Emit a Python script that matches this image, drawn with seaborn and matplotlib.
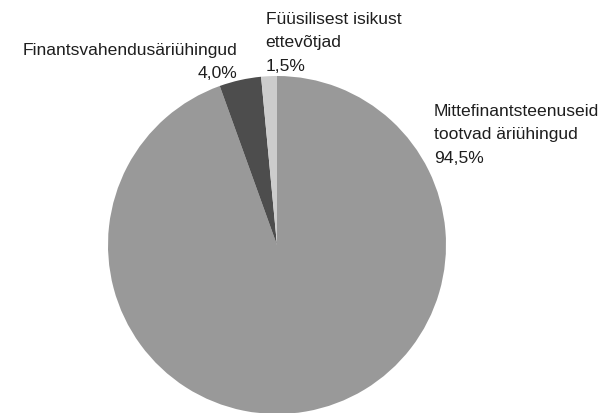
import matplotlib
matplotlib.use("Agg")
import matplotlib.pyplot as plt
import seaborn as sns

sns.set_style("white")
plt.rcParams["font.family"] = ["Liberation Sans", "DejaVu Sans"]

categories = [["Mittefinantsteenuseid", "tootvad äriühingud"],
              ["Finantsvahendusäriühingud"],
              ["Füüsilisest isikust", "ettevõtjad"]]
shares = [94.5, 4.0, 1.5]
colors = ["#999999", "#4d4d4d", "#cccccc"]

fig = plt.figure(figsize=(6.05, 4.14), dpi=100)
W, H = 605, 414
cx, cy, r = 277, 246, 169
ax = fig.add_axes([(cx - r) / W, (H - cy - r) / H, 2 * r / W, 2 * r / H])

ax.pie(shares, colors=colors, startangle=90, counterclock=False,
       wedgeprops=dict(linewidth=0))
ax.set_xlim(-1, 1)
ax.set_ylim(-1, 1)
ax.set_aspect("equal")
ax.axis("off")


def pct(v):
    return f"{v:.1f}%".replace(".", ",")


fs = 12.6
step = 23.3
# anchor x, first baseline y (pixels from top), alignment
label_pos = [(434, 116, "left"), (237, 55, "right"), (265.5, 24, "left")]
for lines, v, (x, y, ha) in zip(categories, shares, label_pos):
    for i, line in enumerate(lines + [pct(v)]):
        fig.text(x / W, 1 - (y + i * step) / H, line, ha=ha, va="baseline",
                 fontsize=fs, color="#1e1e1e")

fig.savefig("out.png", dpi=100)
